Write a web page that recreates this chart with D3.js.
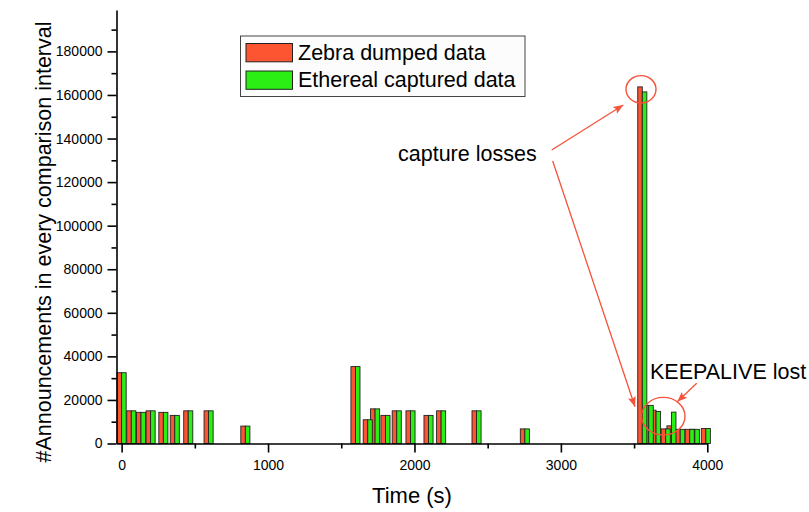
<!DOCTYPE html>
<html>
<head>
<meta charset="utf-8">
<script src="https://cdn.jsdelivr.net/npm/d3@7"></script>
<style>
  body { margin: 0; background: #fff; }
  text { font-family: "Liberation Sans", Arial, sans-serif; fill: #000; }
</style>
</head>
<body>
<div id="chart"></div>
<script>
const width = 809;
const height = 512;

// interval start times (s) and announcement counts per series
const times = [0, 66, 132, 198, 285, 363, 455, 594, 845, 1597, 1681, 1731, 1802, 1879, 1973, 2096, 2182, 2424, 2754, 3556, 3600, 3650, 3716, 3755, 3815, 3880, 3915, 3990];
const zebra = [32500, 15000, 14300, 15000, 14300, 12900, 15000, 15000, 8000, 35300, 10900, 15900, 12900, 15000, 15000, 12900, 15000, 15000, 6700, 163700, 17500, 15300, 6700, 8100, 6500, 6500, 6500, 6900];
const ethereal = [32500, 15000, 14300, 15000, 14300, 12900, 15000, 15000, 8000, 35300, 10900, 15900, 12900, 15000, 15000, 12900, 15000, 15000, 6700, 161400, 17500, 14700, 6700, 14400, 6500, 6500, 6500, 6900];

const seriesNames = ["Zebra dumped data", "Ethereal captured data"];
const colors = ["#fd5432", "#2bef14"];

const xMajor = [0, 1000, 2000, 3000, 4000];
const xMinor = [500, 1500, 2500, 3500];
const yMajor = d3.range(0, 180001, 20000);
const yMinor = d3.range(10000, 190001, 20000);

const barW = 31; // seconds

const svg = d3.select("#chart")
    .append("svg")
    .attr("width", width)
    .attr("height", height);

const x = d3.scaleLinear().domain([-35, 4000]).range([116.5, 707.3]);
const y = d3.scaleLinear().domain([0, 199000]).range([443.5, 10]);

// bars: all red first, then green on top
const series = [zebra, ethereal];
series.forEach((vals, s) => {
    svg.append("g")
        .selectAll("rect")
        .data(times.map((t, i) => ({ t: t, v: vals[i] })))
        .enter()
        .append("rect")
        .attr("x", d => s === 0 ? x(d.t - barW) : x(d.t))
        .attr("width", d => x(d.t + barW) - x(d.t))
        .attr("y", d => y(d.v))
        .attr("height", d => y(0) - y(d.v))
        .attr("fill", colors[s])
        .attr("stroke", "#222")
        .attr("stroke-width", 0.9);
});

// axes
svg.append("g")
    .attr("transform", `translate(${x(-35)},0)`)
    .call(d3.axisLeft(y).tickValues(yMajor).tickSize(9).tickSizeOuter(0).tickPadding(5).tickFormat(d3.format("d")));
svg.append("g")
    .attr("transform", `translate(${x(-35)},0)`)
    .call(d3.axisLeft(y).tickValues(yMinor).tickSize(5).tickSizeOuter(0).tickFormat(""))
    .select(".domain").remove();

svg.append("g")
    .attr("transform", `translate(0,${y(0)})`)
    .call(d3.axisBottom(x).tickValues(xMajor).tickSize(9).tickSizeOuter(0).tickPadding(8).tickFormat(d3.format("d")));
svg.append("g")
    .attr("transform", `translate(0,${y(0)})`)
    .call(d3.axisBottom(x).tickValues(xMinor).tickSize(5).tickSizeOuter(0).tickFormat(""))
    .select(".domain").remove();

svg.selectAll(".domain, .tick line")
    .attr("stroke", "#000")
    .attr("stroke-width", 1.6);
svg.selectAll(".tick text")
    .style("font-family", "Liberation Sans, Arial, sans-serif")
    .style("font-size", "14px")
    .attr("fill", "#000");

// axis titles
svg.append("text")
    .attr("text-anchor", "middle")
    .attr("x", 412)
    .attr("y", 503)
    .style("font-size", "22px")
    .text("Time (s)");

svg.append("text")
    .attr("text-anchor", "middle")
    .attr("transform", "translate(51,242) rotate(-90)")
    .style("font-size", "21.5px")
    .text("#Announcements in every comparison interval");

// legend
const legend = svg.append("g");
legend.append("rect")
    .attr("x", 240.5).attr("y", 36)
    .attr("width", 284.5).attr("height", 60.5)
    .attr("fill", "#fcfcfc")
    .attr("stroke", "#444")
    .attr("stroke-width", 1);
seriesNames.forEach((name, i) => {
    legend.append("rect")
        .attr("x", 246).attr("y", 43.5 + i * 27.5)
        .attr("width", 46.5).attr("height", 18.3)
        .attr("fill", colors[i])
        .attr("stroke", "#222")
        .attr("stroke-width", 1);
    legend.append("text")
        .attr("x", 298)
        .attr("y", 59.5 + i * 27.5)
        .style("font-size", "21.5px")
        .text(name);
});

// annotations
const red = "#f5533a";
const defs = svg.append("defs");
defs.append("marker")
    .attr("id", "arrow")
    .attr("viewBox", "0 0 10 10")
    .attr("refX", 10).attr("refY", 5)
    .attr("markerWidth", 10).attr("markerHeight", 10)
    .attr("markerUnits", "userSpaceOnUse")
    .attr("orient", "auto")
    .append("path")
    .attr("d", "M0,1 L10,5 L0,9 L2,5 Z")
    .attr("fill", red);

svg.append("text")
    .attr("x", 398)
    .attr("y", 161)
    .style("font-size", "21.5px")
    .text("capture losses");

svg.append("text")
    .attr("x", 650)
    .attr("y", 378.5)
    .style("font-size", "21.5px")
    .text("KEEPALIVE lost");

const arrows = [
    [551.7, 150, 623.3, 105],
    [552.7, 161, 635, 406.7],
    [696.7, 383.3, 677.3, 401.7]
];
svg.append("g")
    .selectAll("line")
    .data(arrows)
    .enter()
    .append("line")
    .attr("x1", d => d[0]).attr("y1", d => d[1])
    .attr("x2", d => d[2]).attr("y2", d => d[3])
    .attr("stroke", red)
    .attr("stroke-width", 1.3)
    .attr("marker-end", "url(#arrow)");

svg.append("ellipse")
    .attr("cx", 641).attr("cy", 89.3)
    .attr("rx", 15).attr("ry", 13.7)
    .attr("fill", "none")
    .attr("stroke", red)
    .attr("stroke-width", 1.4);

svg.append("ellipse")
    .attr("cx", 663.3).attr("cy", 416.2)
    .attr("rx", 21.7).attr("ry", 18.8)
    .attr("fill", "none")
    .attr("stroke", red)
    .attr("stroke-width", 1.4);
</script>
</body>
</html>
